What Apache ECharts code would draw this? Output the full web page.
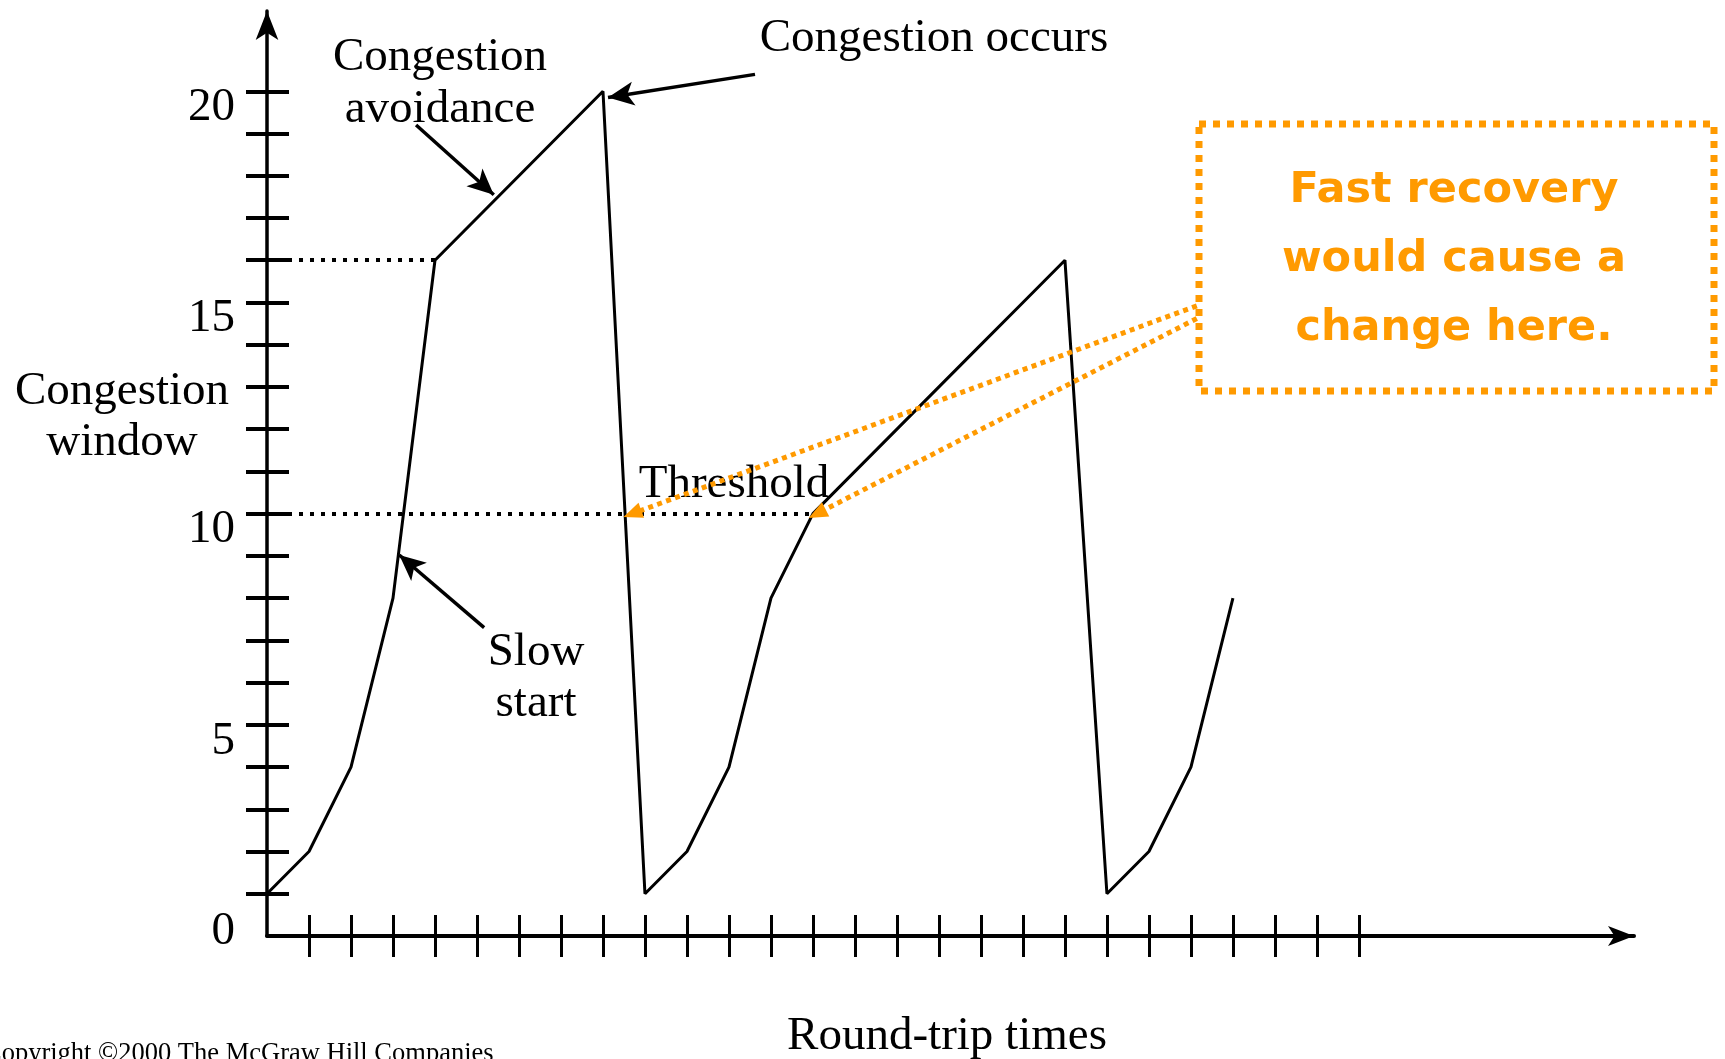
<!DOCTYPE html>
<html>
<head>
<meta charset="utf-8">
<script src="https://cdn.jsdelivr.net/npm/echarts@6/dist/echarts.min.js"></script>
<style>
  html, body { margin: 0; padding: 0; background: #fff; }
  #main { width: 1725px; height: 1059px; }
</style>
</head>
<body>
<div id="main"></div>
<script>
// round-trip index and congestion window size
var rounds = [0, 1, 2, 3, 4, 5, 6, 7, 8, 9, 10, 11, 12, 13, 14, 15, 16, 17, 18, 19, 20, 21, 22, 23]
var cwnd = [1, 2, 4, 8, 16, 17, 18, 19, 20, 1, 2, 4, 8, 10, 11, 12, 13, 14, 15, 16, 1, 2, 4, 8]

var xTicks = [1, 2, 3, 4, 5, 6, 7, 8, 9, 10, 11, 12, 13, 14, 15, 16, 17, 18, 19, 20, 21, 22, 23, 24, 25, 26]
var yTicks = [1, 2, 3, 4, 5, 6, 7, 8, 9, 10, 11, 12, 13, 14, 15, 16, 17, 18, 19, 20]
var yLabels = [0, 5, 10, 15, 20]

// thresholds: [value, x start, x end]
var thresholds = [[16, 0.5, 4], [10, 0.5, 13]]

var chartDom = document.getElementById('main')
var myChart = echarts.init(chartDom)

var SERIF = 'Liberation Serif'
var ORANGE = '#ff9a00'

var lineData = rounds.map(function (r, i) { return [r, cwnd[i]] })

var marks = []
thresholds.forEach(function (t) {
  marks.push([
    { coord: [t[1], t[0]], symbol: 'none', lineStyle: { color: '#000', width: 4, type: [4, 7] } },
    { coord: [t[2], t[0]], symbol: 'none' }
  ])
})
// black annotation arrows
function blackArrow (from, to) {
  marks.push([
    { coord: from, symbol: 'none', lineStyle: { color: '#000', width: 3.5, type: 'solid' } },
    { coord: to, symbol: 'arrow', symbolSize: [18, 26], itemStyle: { color: '#000' } }
  ])
}
blackArrow([3.55, 19.2], [5.4, 17.55])
blackArrow([11.62, 20.4], [8.12, 19.85])
blackArrow([5.17, 7.3], [3.15, 9.02])
// orange arrows from the note box
function orangeArrow (from, to) {
  marks.push([
    { coord: from, symbol: 'none', lineStyle: { color: ORANGE, width: 5, type: [5, 4.5] } },
    { coord: to, symbol: 'triangle', symbolSize: [16, 19], itemStyle: { color: ORANGE } }
  ])
}
orangeArrow([22.14, 14.92], [8.7, 10.0])
orangeArrow([22.14, 14.62], [13.1, 10.0])

var option = {
  animation: false,
  backgroundColor: '#fff',
  grid: { left: 267, right: 91, top: 11, bottom: 123 },
  xAxis: [
    {
      type: 'value',
      min: 0,
      max: 32.55,
      axisLine: { show: true, symbol: ['none', 'arrow'], symbolSize: [15, 26], lineStyle: { color: '#000', width: 4 } },
      axisTick: { show: true, customValues: xTicks, length: 21, lineStyle: { color: '#000', width: 3 } },
      axisLabel: { show: false },
      splitLine: { show: false }
    },
    {
      type: 'value',
      position: 'bottom',
      min: 0,
      max: 32.55,
      axisLine: { show: false },
      axisTick: { show: true, inside: true, customValues: xTicks, length: 21, lineStyle: { color: '#000', width: 3 } },
      axisLabel: { show: false },
      splitLine: { show: false }
    }
  ],
  yAxis: [
    {
      type: 'value',
      position: 'left',
      min: 0,
      max: 21.9,
      axisLine: { show: true, symbol: ['none', 'arrow'], symbolSize: [17, 29], lineStyle: { color: '#000', width: 3.5 } },
      axisTick: { show: true, customValues: yTicks, length: 21, lineStyle: { color: '#000', width: 4 } },
      axisLabel: {
        show: true,
        customValues: yLabels,
        margin: 32,
        color: '#000',
        fontFamily: SERIF,
        fontSize: 47,
        formatter: function (v) { return v === 0 ? '{z|0}' : '{n|' + v + '}' },
        rich: {
          z: { fontFamily: SERIF, fontSize: 47, color: '#000', padding: [0, 0, 8, 0] },
          n: { fontFamily: SERIF, fontSize: 47, color: '#000', padding: [33, 0, 0, 0] }
        }
      },
      splitLine: { show: false }
    },
    {
      type: 'value',
      position: 'left',
      min: 0,
      max: 21.9,
      axisLine: { show: false },
      axisTick: { show: true, inside: true, customValues: yTicks, length: 22, lineStyle: { color: '#000', width: 4 } },
      axisLabel: { show: false },
      splitLine: { show: false }
    }
  ],
  series: [
    {
      type: 'line',
      data: lineData,
      symbol: 'none',
      lineStyle: { color: '#000', width: 3 },
      markLine: {
        silent: true,
        animation: false,
        label: { show: false },
        data: marks
      }
    }
  ],
  graphic: [
    { type: 'text', x: 440, y: 84, style: { text: 'Congestion\navoidance', fontSize: 47, fontFamily: SERIF, fill: '#000', textAlign: 'center', textVerticalAlign: 'middle', lineHeight: 52 } },
    { type: 'text', x: 934, y: 39, style: { text: 'Congestion occurs', fontSize: 47, fontFamily: SERIF, fill: '#000', textAlign: 'center', textVerticalAlign: 'middle' } },
    { type: 'text', x: 122, y: 417, style: { text: 'Congestion\nwindow', fontSize: 47, fontFamily: SERIF, fill: '#000', textAlign: 'center', textVerticalAlign: 'middle', lineHeight: 51 } },
    { type: 'text', x: 734, y: 485, style: { text: 'Threshold', fontSize: 47, fontFamily: SERIF, fill: '#000', textAlign: 'center', textVerticalAlign: 'middle' } },
    { type: 'text', x: 536, y: 678, style: { text: 'Slow\nstart', fontSize: 47, fontFamily: SERIF, fill: '#000', textAlign: 'center', textVerticalAlign: 'middle', lineHeight: 51 } },
    { type: 'text', x: 947, y: 1037, style: { text: 'Round-trip times', fontSize: 47, fontFamily: SERIF, fill: '#000', textAlign: 'center', textVerticalAlign: 'middle' } },
    { type: 'text', x: -16, y: 1041, style: { text: 'Copyright ©2000 The McGraw Hill Companies', fontSize: 26.5, fontFamily: SERIF, fill: '#000', textAlign: 'left', textVerticalAlign: 'top' } },
    { type: 'rect', shape: { x: 1199, y: 124, width: 515, height: 267 }, style: { fill: 'none', stroke: ORANGE, lineWidth: 7, lineDash: [7, 7] } },
    { type: 'text', x: 1454, y: 260, style: { text: 'Fast recovery\nwould cause a\nchange here.', fontSize: 43, fontWeight: 'bold', fontFamily: '"Comic Sans MS", "DejaVu Sans"', fill: ORANGE, textAlign: 'center', textVerticalAlign: 'middle', lineHeight: 69 } }
  ]
}

myChart.setOption(option)
</script>
</body>
</html>
